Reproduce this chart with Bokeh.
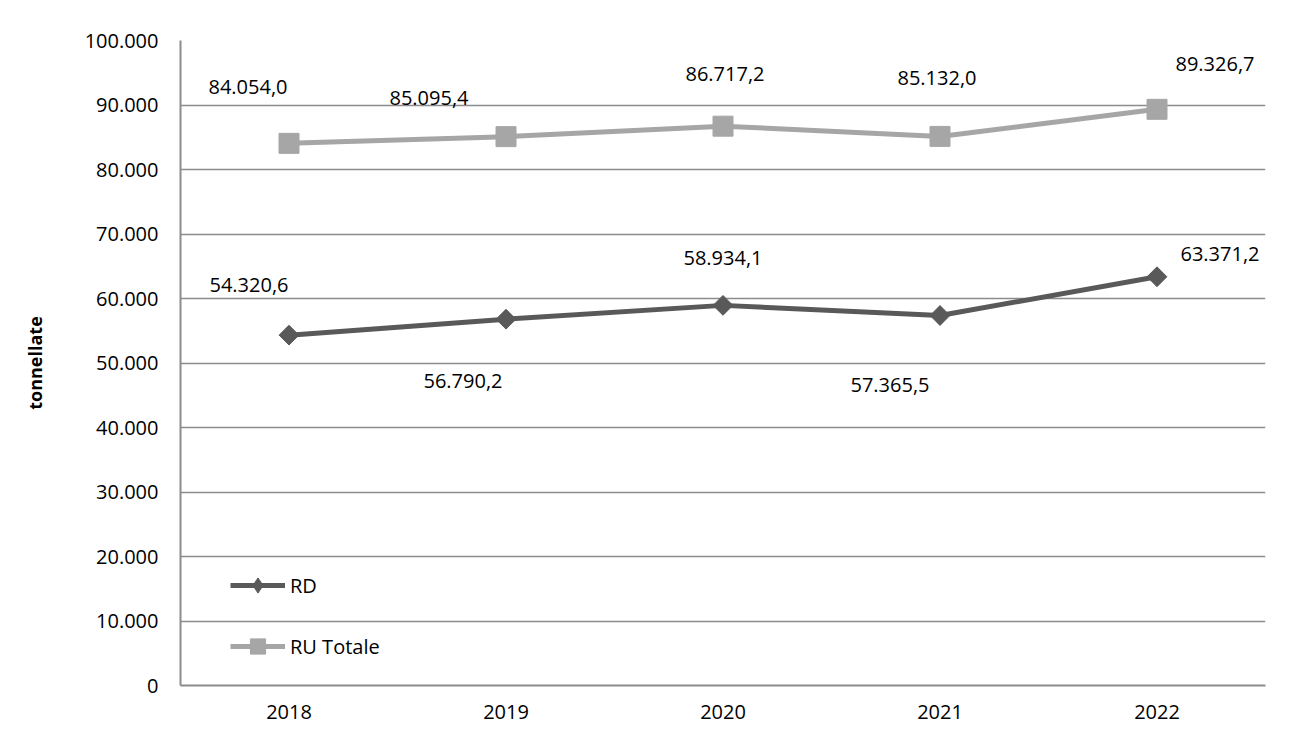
import math
from bokeh.plotting import figure
from bokeh.models import (Range1d, FactorRange, Legend, LegendItem, ColumnDataSource, FixedTicker)
from bokeh.embed import file_html
from bokeh.resources import INLINE
from bokeh.core.properties import value

# ---- data ----
years = ["2018", "2019", "2020", "2021", "2022"]
rd = [54320.6, 56790.2, 58934.1, 57365.5, 63371.2]
ru_totale = [84054.0, 85095.4, 86717.2, 85132.0, 89326.7]
y_ticks = [0, 10000, 20000, 30000, 40000, 50000, 60000, 70000, 80000, 90000, 100000]

# ---- style: label offsets (screen px) ----
ru_dx = [-41, -77, 2, -3, 58]
ru_dy = [-56, -39, -52, -58, -45]
rd_dx = [-40, -43, 0, -50, 63]
rd_dy = [-50, 62, -47, 70, -23]

FONT = "Open Sans"
FS = "20px"
RD_COL = "#595959"
RU_COL = "#a6a6a6"
GRID = "#8c8c8c"


def it_num(v, dec=1):
    s = f"{v:,.{dec}f}"
    return s.replace(",", "X").replace(".", ",").replace("X", ".")


p = figure(width=1292, height=736, x_range=FactorRange(*years), y_range=Range1d(0, 100000),
           output_backend="svg", toolbar_location=None,
           min_border_left=180, min_border_right=27, min_border_top=40, min_border_bottom=51)
p.x_range.range_padding = 0
p.outline_line_color = None
p.background_fill_color = "white"
p.border_fill_color = "white"

# axes
p.yaxis.ticker = FixedTicker(ticks=y_ticks)
p.yaxis.major_label_overrides = {t: it_num(t, 0) for t in y_ticks}
p.yaxis.axis_label = "tonnellate"
p.yaxis.axis_label_text_font = FONT
p.yaxis.axis_label_text_font_style = "bold"
p.yaxis.axis_label_text_font_size = "18px"
p.yaxis.axis_label_text_color = "black"
p.yaxis.axis_label_standoff = 35
for ax in (p.xaxis, p.yaxis):
    ax.major_label_text_font = FONT
    ax.major_label_text_font_size = FS
    ax.major_label_text_color = "black"
    ax.major_tick_out = 0
    ax.major_tick_in = 0
    ax.minor_tick_out = 0
    ax.minor_tick_in = 0
    ax.axis_line_color = GRID
    ax.axis_line_width = 2
p.yaxis.major_label_standoff = 22
p.xaxis.major_label_standoff = 19
p.xgrid.grid_line_color = None
p.ygrid.grid_line_color = GRID
p.ygrid.grid_line_width = 1.5

src_rd = ColumnDataSource(dict(x=years, y=rd, lab=[it_num(v) for v in rd], dx=rd_dx, dy=rd_dy))
src_ru = ColumnDataSource(dict(x=years, y=ru_totale, lab=[it_num(v) for v in ru_totale], dx=ru_dx, dy=ru_dy))

l_ru = p.line("x", "y", source=src_ru, line_color=RU_COL, line_width=5)
m_ru = p.scatter("x", "y", source=src_ru, marker="square", size=20, fill_color=RU_COL, line_color=RU_COL)
l_rd = p.line("x", "y", source=src_rd, line_color=RD_COL, line_width=5)
d_rd = p.scatter("x", "y", source=src_rd, marker="diamond", size=18, fill_color=RD_COL, line_color=RD_COL)
m_rd = p.scatter("x", "y", source=src_rd, marker="square", angle=math.pi / 4, size=14,
                 fill_color=RD_COL, line_color=RD_COL)

for src in (src_ru, src_rd):
    p.text("x", "y", text="lab", source=src, x_offset="dx", y_offset="dy",
           text_font=value(FONT), text_font_size=FS, text_color="black",
           text_align="center", text_baseline="middle")

legend = Legend(items=[LegendItem(label="RD", renderers=[l_rd, d_rd]),
                       LegendItem(label="RU Totale", renderers=[l_ru, m_ru])],
                location=(50, 20), orientation="vertical",
                glyph_width=55, glyph_height=38, label_height=38, spacing=23,
                label_standoff=5, padding=0, margin=0,
                border_line_color=None, background_fill_alpha=0,
                label_text_font=FONT, label_text_font_size=FS, label_text_color="black")
p.add_layout(legend)

open("out.html", "w").write(file_html(p, INLINE))
